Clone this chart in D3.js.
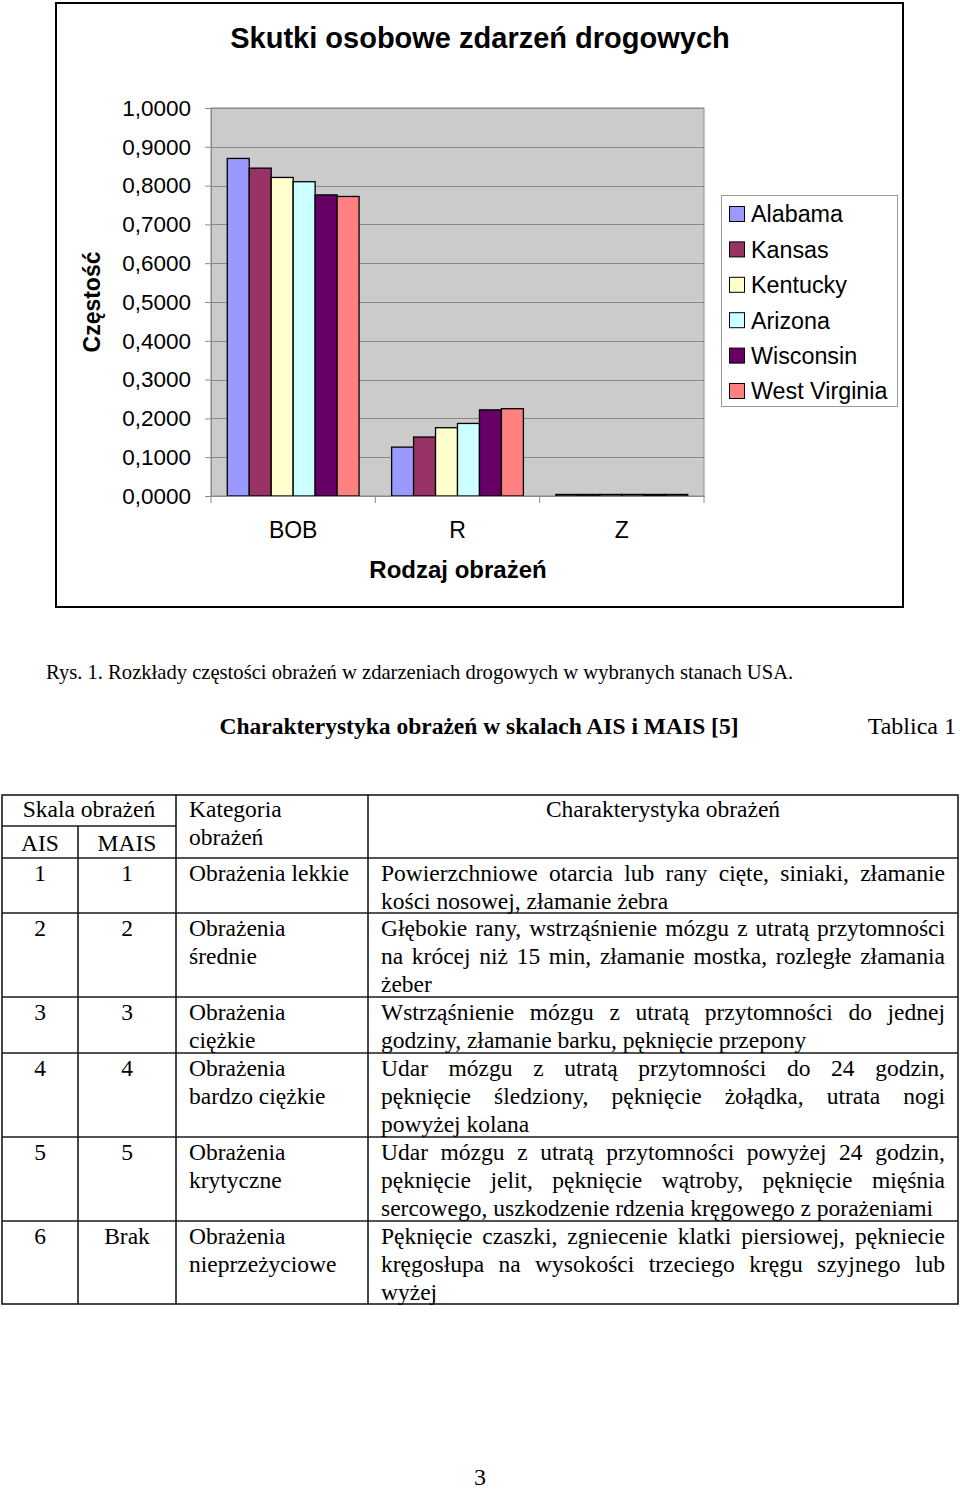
<!DOCTYPE html>
<html><head><meta charset="utf-8">
<script src="https://cdn.jsdelivr.net/npm/d3@7"></script>
<style>
html,body{margin:0;padding:0;background:#fff;}
svg{display:block;}
</style></head>
<body>
<svg id="c" width="960" height="1494"></svg>
<script>
// ---------- chart data ----------
const categories = ["BOB", "R", "Z"];
const seriesNames = ["Alabama", "Kansas", "Kentucky", "Arizona", "Wisconsin", "West Virginia"];
const alabama      = [0.870, 0.126, 0.004];
const kansas       = [0.845, 0.152, 0.004];
const kentucky     = [0.821, 0.176, 0.004];
const arizona      = [0.810, 0.187, 0.004];
const wisconsin    = [0.776, 0.222, 0.004];
const westVirginia = [0.772, 0.225, 0.004];
const seriesColors = ["#9999FF", "#993366", "#FFFFCC", "#CCFFFF", "#660066", "#FF8080"];
const yTicks = [0, 0.1, 0.2, 0.3, 0.4, 0.5, 0.6, 0.7, 0.8, 0.9, 1.0];
const chartTitle = "Skutki osobowe zdarzeń drogowych";
const yTitle = "Częstość";
const xTitle = "Rodzaj obrażeń";

// ---------- table data ----------
const caption = "Rys. 1. Rozkłady częstości obrażeń w zdarzeniach drogowych w wybranych stanach USA.";
const tableLabel = "Tablica 1";
const tableTitle = "Charakterystyka obrażeń w skalach AIS i MAIS [5]";
const aisCol = ["1", "2", "3", "4", "5", "6"];
const maisCol = ["1", "2", "3", "4", "5", "Brak"];
const categoryCol = [
  ["Obrażenia lekkie"],
  ["Obrażenia", "średnie"],
  ["Obrażenia", "ciężkie"],
  ["Obrażenia", "bardzo ciężkie"],
  ["Obrażenia", "krytyczne"],
  ["Obrażenia", "nieprzeżyciowe"]
];
const descriptionCol = [
  ["Powierzchniowe otarcia lub rany cięte, siniaki, złamanie", "kości nosowej, złamanie żebra"],
  ["Głębokie rany, wstrząśnienie mózgu z utratą przytomności", "na krócej niż 15 min, złamanie mostka, rozległe złamania", "żeber"],
  ["Wstrząśnienie mózgu z utratą przytomności do jednej", "godziny, złamanie barku, pęknięcie przepony"],
  ["Udar mózgu z utratą przytomności do 24 godzin,", "pęknięcie śledziony, pęknięcie żołądka, utrata nogi", "powyżej kolana"],
  ["Udar mózgu z utratą przytomności powyżej 24 godzin,", "pęknięcie jelit, pęknięcie wątroby, pęknięcie mięśnia", "sercowego, uszkodzenie rdzenia kręgowego z porażeniami"],
  ["Pęknięcie czaszki, zgniecenie klatki piersiowej, pękniecie", "kręgosłupa na wysokości trzeciego kręgu szyjnego lub", "wyżej"]
];
const headerTexts = ["Skala obrażeń", "AIS", "MAIS", "Kategoria", "obrażeń", "Charakterystyka obrażeń"];
const pageNumber = "3";

const valuesBySeries = [alabama, kansas, kentucky, arizona, wisconsin, westVirginia];

const svg = d3.select("#c");
const SANS = 'Arial, "Liberation Sans", sans-serif';
const SERIF = '"Times New Roman", "Liberation Serif", serif';
const TFS = 23.5; // table font size

// ---------- chart ----------
svg.append("rect").attr("x", 56).attr("y", 3).attr("width", 847).attr("height", 604)
  .attr("fill", "#fff").attr("stroke", "#000").attr("stroke-width", 2);

svg.append("text").attr("x", 480).attr("y", 48).attr("text-anchor", "middle")
  .attr("font-family", SANS).attr("font-weight", "bold").attr("font-size", 29)
  .text(chartTitle);

const plot = {left: 211, right: 704, top: 108, bottom: 496};
const y = d3.scaleLinear().domain([0, 1]).range([plot.bottom, plot.top]);
const x0 = d3.scaleBand().domain(categories).range([plot.left, plot.right]).padding(0);
const bw = x0.bandwidth();
const x1 = d3.scaleBand().domain(seriesNames).range([bw * 0.099, bw * 0.901]).padding(0);
const color = d3.scaleOrdinal().domain(seriesNames).range(seriesColors);

svg.append("rect").attr("x", plot.left).attr("y", plot.top)
  .attr("width", plot.right - plot.left).attr("height", plot.bottom - plot.top)
  .attr("fill", "#cbcbcb").attr("stroke", "#8a8a8a").attr("stroke-width", 1);

// gridlines
svg.append("g").selectAll("line").data(yTicks.filter(t => t > 0)).join("line")
  .attr("x1", plot.left).attr("x2", plot.right)
  .attr("y1", d => Math.round(y(d)) + 0.5).attr("y2", d => Math.round(y(d)) + 0.5)
  .attr("stroke", "#8a8a8a").attr("stroke-width", 1);

// bars
const groups = svg.append("g").selectAll("g").data(categories).join("g")
  .attr("transform", c => `translate(${x0(c)},0)`);
groups.selectAll("rect").data((c, ci) => seriesNames.map((s, si) => ({s, v: valuesBySeries[si][ci]})))
  .join("rect")
  .attr("x", d => x1(d.s)).attr("width", x1.bandwidth())
  .attr("y", d => y(d.v)).attr("height", d => y(0) - y(d.v))
  .attr("fill", d => color(d.s)).attr("stroke", "#000").attr("stroke-width", 1.3);

// y axis
const fmt = d => d3.format(".4f")(d).replace(".", ",");
const yAxis = svg.append("g").attr("transform", `translate(${plot.left},0)`)
  .call(d3.axisLeft(y).tickValues(yTicks).tickFormat(fmt).tickSize(6).tickPadding(14));
yAxis.select(".domain").attr("stroke", "#8a8a8a");
yAxis.selectAll(".tick line").attr("stroke", "#8a8a8a");
yAxis.selectAll("text").attr("font-family", SANS).attr("font-size", 22.5).attr("fill", "#000");

// x axis
const xAxis = svg.append("g").attr("transform", `translate(0,${plot.bottom})`)
  .call(d3.axisBottom(x0).tickSize(0).tickPadding(26));
xAxis.select(".domain").attr("stroke", "#8a8a8a");
xAxis.selectAll("text").attr("font-family", SANS).attr("font-size", 23).attr("fill", "#000");
const boundaries = categories.map(c => x0(c)).concat([x0(categories[categories.length - 1]) + bw]);
svg.append("g").selectAll("line").data(boundaries).join("line")
  .attr("x1", d => d).attr("x2", d => d).attr("y1", plot.bottom).attr("y2", plot.bottom + 7)
  .attr("stroke", "#8a8a8a");

svg.append("text").attr("x", 458).attr("y", 578).attr("text-anchor", "middle")
  .attr("font-family", SANS).attr("font-weight", "bold").attr("font-size", 24).text(xTitle);
svg.append("text").attr("transform", "translate(100,302) rotate(-90)").attr("text-anchor", "middle")
  .attr("font-family", SANS).attr("font-weight", "bold").attr("font-size", 23).text(yTitle);

// legend
const lg = svg.append("g");
lg.append("rect").attr("x", 721.5).attr("y", 195.5).attr("width", 176).attr("height", 211)
  .attr("fill", "#fff").attr("stroke", "#999").attr("stroke-width", 1);
const li = lg.selectAll("g").data(seriesNames).join("g")
  .attr("transform", (d, i) => `translate(0,${214 + i * 35.4})`);
li.append("rect").attr("x", 729.5).attr("y", -7.5).attr("width", 15).attr("height", 15)
  .attr("fill", d => color(d)).attr("stroke", "#000").attr("stroke-width", 1);
li.append("text").attr("x", 751).attr("y", 0).attr("dy", "0.36em")
  .attr("font-family", SANS).attr("font-size", 23.3).text(d => d);

// ---------- caption & table ----------
svg.append("text").attr("x", 46).attr("y", 679).attr("font-family", SERIF).attr("font-size", 20.6).text(caption);
svg.append("text").attr("x", 956).attr("y", 734).attr("text-anchor", "end")
  .attr("font-family", SERIF).attr("font-size", 24).text(tableLabel);
svg.append("text").attr("x", 479).attr("y", 734).attr("text-anchor", "middle")
  .attr("font-family", SERIF).attr("font-weight", "bold").attr("font-size", 23.5).text(tableTitle);

const cols = [2, 78, 176, 368, 958];
const rowsY = [858, 913, 997, 1053, 1137, 1221, 1304];
const tTop = 795, tMid = 826;
const tg = svg.append("g").attr("stroke", "#1a1a1a").attr("stroke-width", 1.6);
tg.append("rect").attr("x", cols[0]).attr("y", tTop).attr("width", cols[4] - cols[0]).attr("height", rowsY[6] - tTop).attr("fill", "none");
tg.append("line").attr("x1", cols[0]).attr("x2", cols[2]).attr("y1", tMid).attr("y2", tMid);
rowsY.slice(0, 6).forEach(yy => tg.append("line").attr("x1", cols[0]).attr("x2", cols[4]).attr("y1", yy).attr("y2", yy));
tg.append("line").attr("x1", cols[1]).attr("x2", cols[1]).attr("y1", tMid).attr("y2", rowsY[6]);
tg.append("line").attr("x1", cols[2]).attr("x2", cols[2]).attr("y1", tTop).attr("y2", rowsY[6]);
tg.append("line").attr("x1", cols[3]).attr("x2", cols[3]).attr("y1", tTop).attr("y2", rowsY[6]);

function txt(xx, yy, s, anchor) {
  return svg.append("text").attr("x", xx).attr("y", yy).attr("text-anchor", anchor || "start")
    .attr("font-family", SERIF).attr("font-size", TFS).attr("fill", "#000").text(s);
}
txt((cols[0] + cols[2]) / 2, 817, headerTexts[0], "middle");
txt((cols[0] + cols[1]) / 2, 851, headerTexts[1], "middle");
txt((cols[1] + cols[2]) / 2, 851, headerTexts[2], "middle");
txt(cols[2] + 13, 817, headerTexts[3]);
txt(cols[2] + 13, 845, headerTexts[4]);
txt((cols[3] + cols[4]) / 2, 817, headerTexts[5], "middle");

const LH = 28;
const descLeft = cols[3] + 13, descRight = cols[4] - 13;
const measure = svg.append("text").attr("font-family", SERIF).attr("font-size", TFS).attr("x", -1000).attr("y", -1000);
function wordWidth(w) { measure.text(w); return measure.node().getComputedTextLength(); }

aisCol.forEach((v, i) => {
  const top = rowsY[i];
  const base = top + 23;
  txt((cols[0] + cols[1]) / 2, base, v, "middle");
  txt((cols[1] + cols[2]) / 2, base, maisCol[i], "middle");
  categoryCol[i].forEach((l, j) => txt(cols[2] + 13, base + j * LH, l));
  const lines = descriptionCol[i];
  lines.forEach((l, j) => {
    const yy = base + j * LH;
    if (j === lines.length - 1) { txt(descLeft, yy, l); return; }
    const words = l.split(" ");
    const widths = words.map(wordWidth);
    const total = d3.sum(widths);
    const gap = (descRight - descLeft - total) / (words.length - 1);
    let cx = descLeft;
    words.forEach((w, k) => { txt(cx, yy, w); cx += widths[k] + gap; });
  });
});
measure.remove();

svg.append("text").attr("x", 480).attr("y", 1485).attr("text-anchor", "middle")
  .attr("font-family", SERIF).attr("font-size", 24).text(pageNumber);
</script>
</body></html>
